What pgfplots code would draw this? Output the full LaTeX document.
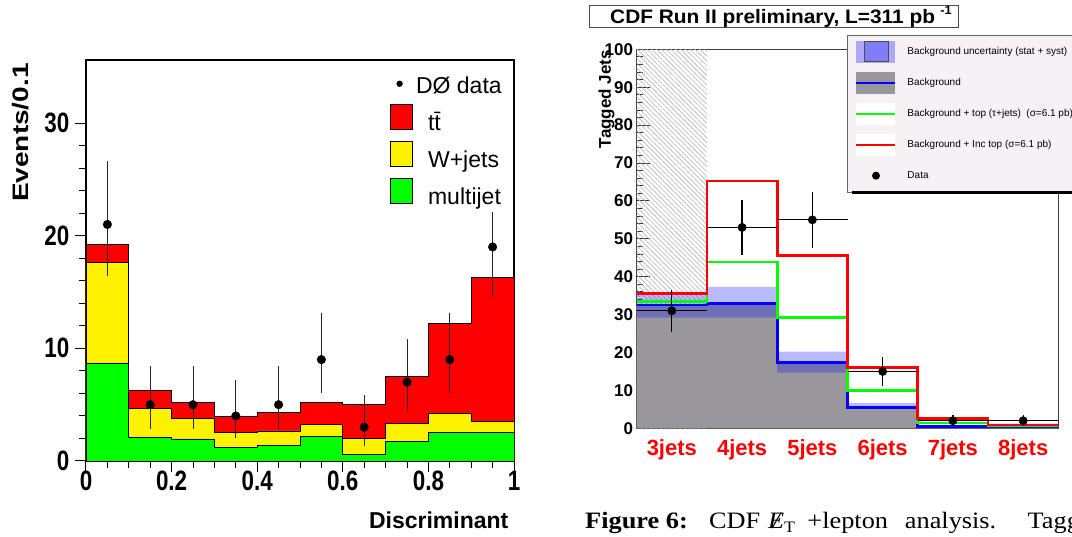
\documentclass[border=0pt]{standalone}
\usepackage{pgfplots}
\pgfplotsset{compat=1.18}
\usetikzlibrary{patterns,patterns.meta}
\usepackage{fontspec}
\setmainfont{Liberation Sans}
\newfontfamily\capfont{Liberation Serif}

\definecolor{histgray}{RGB}{153,151,155}
\definecolor{legbg}{RGB}{245,241,245}

\begin{document}
\begin{tikzpicture}
\begin{scope}
\clip (0,0) rectangle (1072pt,537pt);

% ---------------- left panel: D0 discriminant ----------------
\begin{axis}[
  at={(86pt,76pt)}, anchor=south west,
  scale only axis, width=428pt, height=401pt,
  xmin=0, xmax=1, ymin=0, ymax=35.6,
  axis line style={line width=1.3pt},
  xtick={0,0.2,0.4,0.6,0.8,1}, ytick={0,10,20,30},
  minor x tick num=3, minor y tick num=4,
  tick align=outside, xtick pos=bottom, ytick pos=left,
  major tick length=11pt, minor tick length=7pt,
  every tick/.style={black, line width=1pt},
  /pgf/number format/assume math mode=true,
  ticklabel style={font=\fontsize{28}{30}\selectfont\bfseries, inner sep=2pt},
  xticklabel style={xscale=0.8, yshift=3pt},
  yticklabel style={xscale=0.8, xshift=-5pt},
  ylabel={\scalebox{1}[0.8]{Events/0.1}},
  every axis y label/.style={at={(axis description cs:-0.152,0.819)}, rotate=90, anchor=center,
    font=\fontsize{28}{30}\selectfont\bfseries},
  xlabel={Discriminant},
  every axis x label/.style={at={(axis description cs:0.995,-0.168)}, anchor=base east,
    font=\fontsize{23}{25}\selectfont\bfseries},
  legend style={at={(axis description cs:0.71,0.978)}, anchor=north west, draw=none, fill=none,
    font=\fontsize{23}{25}\selectfont, inner sep=0pt, row sep=9pt, column sep=15pt,
    nodes={inner sep=0pt}},
  legend cell align=left,
]
\addlegendimage{legend image code/.code={\fill[black, draw=none] (9pt,-2pt) circle (3.2pt);}}
\addlegendentry{\rule[-6pt]{0pt}{30pt}\hspace{-12pt}DØ data}
\addlegendimage{legend image code/.code={\draw[fill=red, line width=1pt] (0pt,-10pt) rectangle (22pt,15pt);}}
\addlegendentry{\rule[-6pt]{0pt}{30pt}t\={t}}
\addlegendimage{legend image code/.code={\draw[fill=yellow, line width=1pt] (0pt,-10pt) rectangle (22pt,15pt);}}
\addlegendentry{\rule[-6pt]{0pt}{30pt}W+jets}
\addlegendimage{legend image code/.code={\draw[fill=green, line width=1pt] (0pt,-10pt) rectangle (22pt,15pt);}}
\addlegendentry{\rule[-6pt]{0pt}{30pt}multijet}

% stacked totals drawn back to front
\addplot[const plot, fill=red, draw=black, line width=0.8pt, forget plot] coordinates {
  (0,19.2) (0.1,6.3) (0.2,5.16) (0.3,3.98) (0.4,4.3) (0.5,5.2) (0.6,5.0) (0.7,7.5) (0.8,12.2) (0.9,16.3) (1.0,16.3)
} \closedcycle;
\addplot[const plot, fill=yellow, draw=black, line width=0.8pt, forget plot] coordinates {
  (0,17.6) (0.1,4.7) (0.2,3.77) (0.3,2.55) (0.4,2.67) (0.5,3.23) (0.6,2.0) (0.7,3.3) (0.8,4.25) (0.9,3.5) (1.0,3.5)
} \closedcycle;
\addplot[const plot, fill=green, draw=black, line width=0.8pt, forget plot] coordinates {
  (0,8.7) (0.1,2.1) (0.2,1.96) (0.3,1.22) (0.4,1.4) (0.5,2.14) (0.6,0.6) (0.7,1.7) (0.8,2.5) (0.9,2.55) (1.0,2.55)
} \closedcycle;
% data
\addplot[only marks, mark=*, mark size=4.3pt, black, forget plot,
  error bars/.cd, y dir=both, y explicit, error mark=none,
  error bar style={line width=1pt, black!85}] coordinates {
  (0.05,21) += (0,5.6) -= (0,4.6)
  (0.15,5) += (0,3.4) -= (0,2.2)
  (0.25,5) += (0,3.4) -= (0,2.2)
  (0.35,4) += (0,3.2) -= (0,2.0)
  (0.45,5) += (0,3.4) -= (0,2.2)
  (0.55,9) += (0,4.1) -= (0,3.0)
  (0.65,3) += (0,2.9) -= (0,1.7)
  (0.75,7) += (0,3.8) -= (0,2.6)
  (0.85,9) += (0,4.1) -= (0,3.0)
  (0.95,19) += (0,3.1) -= (0,4.4)
};
\end{axis}

% ---------------- right panel: CDF tagged jets ----------------
\begin{axis}[
  at={(636.7pt,108.7pt)}, anchor=south west,
  scale only axis, width=421.6pt, height=379pt,
  xmin=0, xmax=6, ymin=0, ymax=100,
  axis line style={line width=0.9pt, black!75},
  xtick={0.5,1.5,2.5,3.5,4.5,5.5},
  xticklabels={3jets,4jets,5jets,6jets,7jets,8jets},
  x tick style={draw=none},
  xticklabel style={font=\fontsize{22}{24}\selectfont\bfseries, red, anchor=base, yshift=-27pt},
  ytick={0,10,...,100}, minor y tick num=4,
  ytick pos=left, tick align=inside,
  major tick length=13pt, minor tick length=6pt,
  y tick style={line width=0.8pt, black!80},
  /pgf/number format/assume math mode=true,
  yticklabel style={font=\fontsize{17}{19}\selectfont\bfseries, inner sep=2pt, xshift=-1.5pt},
  ylabel={Tagged Jets},
  every axis y label/.style={at={(axis description cs:-0.061,1.007)}, rotate=90, anchor=base east,
    font=\fontsize{17}{19}\selectfont\bfseries},
  legend style={at={(axis description cs:0.4995,1.0377)}, anchor=north west, fill=legbg, draw=black!60,
    font=\fontsize{10}{12}\selectfont, inner xsep=8pt, inner ysep=5.5pt, row sep=9pt, column sep=9pt},
  legend cell align=left,
]
\addlegendimage{legend image code/.code={
  \fill[blue, fill opacity=0.3, draw=none] (0pt,-11pt) rectangle (39pt,11pt);
  \draw[line width=1pt, black!70, fill=blue, fill opacity=0.25] (8pt,-10pt) rectangle (32pt,10pt);}}
\addlegendentry{Background uncertainty (stat + syst)}
\addlegendimage{legend image code/.code={
  \fill[histgray, draw=none] (0pt,-11pt) rectangle (39pt,11pt);
  \draw[blue, line width=2pt] (0pt,0pt) -- (39pt,0pt);}}
\addlegendentry{Background}
\addlegendimage{legend image code/.code={
  \fill[white, draw=none] (0pt,-11pt) rectangle (39pt,11pt);
  \draw[green, line width=2pt] (0pt,0pt) -- (39pt,0pt);}}
\addlegendentry{Background + top (τ+jets)\ \ (σ=6.1 pb)}
\addlegendimage{legend image code/.code={
  \fill[white, draw=none] (0pt,-11pt) rectangle (39pt,11pt);
  \draw[red, line width=2pt] (0pt,0pt) -- (39pt,0pt);}}
\addlegendentry{Background + Inc top (σ=6.1 pb)}
\addlegendimage{legend image code/.code={
  \path[draw=none, fill=none] (0pt,-11pt) rectangle (39pt,11pt);
  \fill[black, draw=none] (19.5pt,0pt) circle (4pt);}}
\addlegendentry{\makebox[175pt][l]{Data}}

% excluded 3-jet region
\addplot[draw=none, pattern={Lines[angle=-45, distance=3.4pt, line width=0.6pt]}, pattern color=gray!60, forget plot]
  coordinates {(0,0) (0,100) (1,100) (1,0)} -- cycle;
% background
\addplot[const plot, fill=histgray, draw=none, forget plot] coordinates {
  (0,32.5) (1,33.0) (2,17.4) (3,5.5) (4,0.4) (5,0.4) (6,0.4)} \closedcycle;
% background uncertainty band (upper edge forward, lower edge back)
\addplot[draw=none, fill=blue, fill opacity=0.27, forget plot] coordinates {
  (0,35.8) (1,35.8) (1,37.3) (2,37.3) (2,20.2) (3,20.2) (3,6.7) (4,6.7) (4,0.8) (5,0.8) (5,1.2) (6,1.2)
  (6,0.1) (5,0.1) (5,0.2) (4,0.2) (4,5.1) (3,5.1) (3,14.7) (2,14.7) (2,29.2) (1,29.2) (0,29.2)} -- cycle;
% lines
\addplot[const plot, blue, line width=2.6pt, forget plot] coordinates {
  (0,32.5) (1,33.0) (2,17.4) (3,5.5) (4,0.4) (5,0.4) (6,0.4)};
\addplot[const plot, green, line width=2.6pt, forget plot] coordinates {
  (0,33.4) (1,43.9) (2,29.2) (3,10.0) (4,1.4) (5,0.6) (6,0.6)};
\addplot[const plot, red, line width=2.6pt, forget plot] coordinates {
  (0,35.5) (1,65.2) (2,45.6) (3,16.1) (4,2.6) (5,0.9) (6,0.9)};
% data
\addplot[only marks, mark=*, mark size=4.2pt, black, forget plot,
  error bars/.cd, x dir=both, x explicit, y dir=both, y explicit, error mark=none,
  error bar style={line width=1.3pt}] coordinates {
  (0.5,31) +- (0.5,5.6)
  (1.5,53) +- (0.5,7.3)
  (2.5,55) +- (0.5,7.4)
  (3.5,15) +- (0.5,3.9)
  (4.5,2) +- (0.5,1.4)
  (5.5,2) +- (0.5,1.4)
};
\end{axis}
% legend shadow
\draw[line width=3pt] (851.7pt,344.3pt) -- (1072pt,344.3pt);

% title box
\node[draw=black!70, line width=1pt, fill=white, anchor=north west, minimum width=369pt,
  minimum height=22pt, inner sep=0pt] at (589pt,532pt) {};
\node[anchor=base west, inner sep=0pt, xscale=1.07, font=\fontsize{19.5}{21}\selectfont\bfseries] at (610pt,513pt)
  {CDF Run II preliminary, L=311 pb\hspace{5pt}\raisebox{9pt}{\fontsize{12}{13}\selectfont -1}};

% caption
\node[anchor=base west, inner sep=0pt, xscale=1.12, font=\capfont\fontsize{23.5}{25}\selectfont] at (585pt,8pt)
  {\textbf{Figure 6:}\hspace{19pt}CDF\hspace{7pt}\makebox[0pt][l]{\hspace{4pt}\textit{/}}\textit{E}\raisebox{-4pt}{\fontsize{16}{17}\selectfont T}\hspace{11pt}+lepton\hspace{15pt}analysis.\hspace{28pt}Tagg};
\end{scope}
\pgfresetboundingbox
\path[use as bounding box] (0,0) rectangle (1072pt,537pt);
\end{tikzpicture}
\end{document}
